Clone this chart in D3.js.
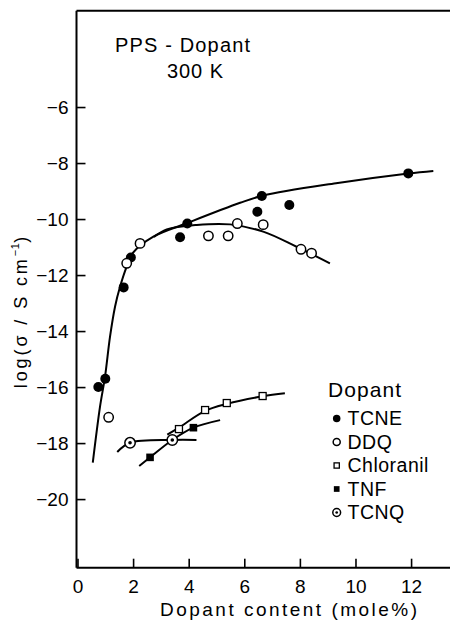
<!DOCTYPE html>
<html>
<head>
<meta charset="utf-8">
<script src="https://cdn.jsdelivr.net/npm/d3@7/dist/d3.min.js"></script>
<style>
  html, body { margin: 0; padding: 0; background: #fff; }
  svg { display: block; font-family: "Liberation Sans", Arial, sans-serif; }
</style>
</head>
<body>
<svg id="chart" width="450" height="621"></svg>
<script>
// ---- data ----
const xTicks = [0, 2, 4, 6, 8, 10, 12];
const yTicks = [-20, -18, -16, -14, -12, -10, -8, -6];

const tcnePoints = [[0.75,-16.0],[1.0,-15.7],[1.66,-12.44],[1.92,-11.37],[3.69,-10.65],[3.95,-10.16],[6.47,-9.74],[6.63,-9.18],[7.62,-9.5],[11.9,-8.37]];
const ddqPoints = [[1.12,-17.08],[1.77,-11.58],[2.25,-10.87],[4.71,-10.6],[5.42,-10.6],[5.75,-10.16],[6.68,-10.2],[8.04,-11.08],[8.42,-11.22]];
const chloranilPoints = [[3.65,-17.5],[4.59,-16.82],[5.37,-16.57],[6.66,-16.32]];
const tnfPoints = [[2.61,-18.51],[4.17,-17.45]];
const tcnqPoints = [[1.89,-17.99],[3.41,-17.89]];

const tcneCurve = [[0.55,-18.7],[0.81,-16.7],[0.99,-15.63],[1.17,-14.2],[1.35,-13.13],[1.53,-12.42],[1.77,-11.7],[2.0,-11.2],[2.73,-10.63],[3.93,-10.15],[5.85,-9.42],[6.68,-9.16],[9.3,-8.72],[11.9,-8.37],[12.8,-8.28]];
const ddqCurve = [[2.75,-10.64],[3.21,-10.37],[4.29,-10.21],[5.49,-10.19],[6.68,-10.45],[7.88,-10.99],[9.08,-11.58]];
const chloranilCurve = [[3.23,-17.7],[3.65,-17.45],[4.59,-16.85],[5.37,-16.6],[6.66,-16.33],[7.46,-16.22]];
const tnfCurve = [[2.22,-18.82],[2.61,-18.51],[3.41,-17.89],[4.17,-17.45],[5.13,-17.18]];
const tcnqCurve = [[1.43,-18.32],[1.89,-17.99],[3.41,-17.89],[4.28,-17.89]];

const legendNames = ["TCNE", "DDQ", "Chloranil", "TNF", "TCNQ"];

// ---- layout ----
const svg = d3.select("#chart");
const x = d3.scaleLinear().domain([0, 13.4]).range([77.5, 450]);
const y = d3.scaleLinear().domain([-22.45, -2.56]).range([567.7, 10.7]);
const frameLeft = 76.5, frameTop = 10.7, frameBottom = 567.7;

const fmt = d => (d < 0 ? "\u2212" + Math.abs(d) : String(d));

// frame
svg.append("line").attr("x1", frameLeft).attr("x2", 450).attr("y1", frameTop).attr("y2", frameTop)
  .attr("stroke", "#000").attr("stroke-width", 2);

const gy = svg.append("g").attr("transform", `translate(${frameLeft},0)`)
  .call(d3.axisLeft(y).tickValues(yTicks).tickFormat(fmt).tickSize(-9).tickSizeOuter(0).tickPadding(8));
const gx = svg.append("g").attr("transform", `translate(0,${frameBottom})`)
  .call(d3.axisBottom(x).tickValues(xTicks).tickFormat(fmt).tickSize(-9).tickSizeOuter(0).tickPadding(12));
[gx, gy].forEach(g => {
  g.select(".domain").attr("stroke-width", 2);
  g.selectAll(".tick line").attr("stroke-width", 1.6);
  g.selectAll(".tick text").attr("font-size", 19).attr("font-family", "Liberation Sans, Arial, sans-serif").attr("fill", "#000");
});
gy.select(".domain").attr("d", `M0,${frameTop}V${frameBottom}`);
gx.select(".domain").attr("d", `M${frameLeft},0H450`);

// curves
const line = d3.line().x(d => x(d[0])).y(d => y(d[1])).curve(d3.curveCatmullRom.alpha(0.5));
[tcneCurve, ddqCurve, chloranilCurve, tnfCurve, tcnqCurve].forEach(c => {
  svg.append("path").attr("d", line(c)).attr("fill", "none").attr("stroke", "#000").attr("stroke-width", 2);
});

// markers
function drawMarker(g, type, cx, cy, s) {
  if (type === "TCNE") {
    g.append("circle").attr("cx", cx).attr("cy", cy).attr("r", 5 * s).attr("fill", "#000");
  } else if (type === "DDQ") {
    g.append("circle").attr("cx", cx).attr("cy", cy).attr("r", 4.7 * s).attr("fill", "#fff").attr("stroke", "#000").attr("stroke-width", 1.5);
  } else if (type === "Chloranil") {
    const h = 3.5 * s;
    g.append("rect").attr("x", cx - h).attr("y", cy - h).attr("width", 2 * h).attr("height", 2 * h).attr("fill", "#fff").attr("stroke", "#000").attr("stroke-width", 1.3);
  } else if (type === "TNF") {
    const h = 3.8 * s;
    g.append("rect").attr("x", cx - h).attr("y", cy - h).attr("width", 2 * h).attr("height", 2 * h).attr("fill", "#000");
  } else if (type === "TCNQ") {
    g.append("circle").attr("cx", cx).attr("cy", cy).attr("r", 5.2 * s).attr("fill", "#fff").attr("stroke", "#000").attr("stroke-width", 1.5);
    g.append("circle").attr("cx", cx).attr("cy", cy).attr("r", 1.8 * s).attr("fill", "#000");
  }
}
const series = [["TCNE", tcnePoints], ["DDQ", ddqPoints], ["Chloranil", chloranilPoints], ["TNF", tnfPoints], ["TCNQ", tcnqPoints]];
const gm = svg.append("g");
series.forEach(([name, pts]) => pts.forEach(p => drawMarker(gm, name, x(p[0]), y(p[1]), 1)));

// texts
svg.append("text").attr("x", 115).attr("y", 51.7).attr("font-size", 20).attr("textLength", 135).attr("lengthAdjust", "spacing").text("PPS - Dopant");
svg.append("text").attr("x", 167).attr("y", 78.3).attr("font-size", 20).attr("textLength", 56).attr("lengthAdjust", "spacing").text("300 K");

svg.append("text").attr("x", 160).attr("y", 616).attr("font-size", 19).attr("textLength", 257).attr("lengthAdjust", "spacing").text("Dopant  content (mole%)");

const yl = svg.append("text").attr("transform", "translate(27,311) rotate(-90)").attr("text-anchor", "middle")
  .attr("font-size", 18).attr("letter-spacing", 2.9);
yl.append("tspan").text("log(\u03C3 / S cm");
yl.append("tspan").attr("font-size", 11).attr("letter-spacing", 0.5).attr("dy", -8).text("\u22121");
yl.append("tspan").attr("dy", 8).text(")");

// legend
const lg = svg.append("g");
lg.append("text").attr("x", 328).attr("y", 396.5).attr("font-size", 21).attr("textLength", 73).attr("lengthAdjust", "spacing").text("Dopant");
legendNames.forEach((n, i) => {
  const cy = 418.5 + i * 23.5;
  drawMarker(lg, n, 336.7, cy, 0.75);
  lg.append("text").attr("x", 347.5).attr("y", cy + 6.8).attr("font-size", 19.5).attr("letter-spacing", 0.5).text(n);
});
</script>
</body>
</html>
